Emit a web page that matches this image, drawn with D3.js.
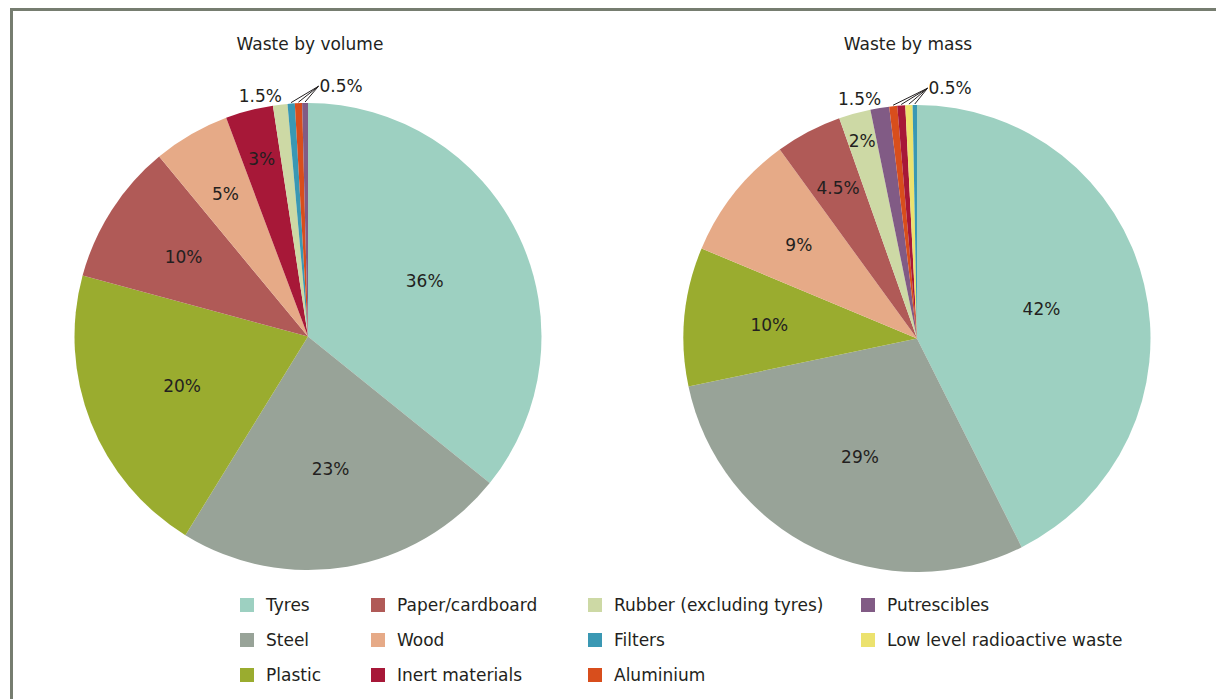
<!DOCTYPE html>
<html>
<head>
<meta charset="utf-8">
<script src="https://cdn.jsdelivr.net/npm/d3@7"></script>
<style>
  html, body { margin: 0; padding: 0; background: #fff; }
  svg { display: block; font-family: "DejaVu Sans", "Noto Sans", sans-serif; }
</style>
</head>
<body>
<svg id="chart" width="1216" height="699"></svg>
<script>
// ---- data ----
const categories = ["Tyres", "Steel", "Plastic", "Paper/cardboard", "Wood", "Inert materials",
  "Rubber (excluding tyres)", "Filters", "Aluminium", "Putrescibles", "Low level radioactive waste"];
const colors = ["#9dd0c1", "#98a398", "#9aac2f", "#b05a57", "#e6aa87", "#a71838",
  "#cdd9a5", "#3a98b3", "#d84e1c", "#815b85", "#ece26e"];

const volumeTitle = "Waste by volume";
const volumeCats = ["Tyres", "Steel", "Plastic", "Paper/cardboard", "Wood", "Inert materials",
  "Rubber (excluding tyres)", "Filters", "Aluminium", "Putrescibles"];
// slice sizes estimated from the drawn angles
const volumeValues = [35.8, 23.0, 20.4, 9.8, 5.3, 3.3, 1.0, 0.5, 0.5, 0.4];
// printed labels
const volumeLabels = ["36%", "23%", "20%", "10%", "5%", "3%", "1.5%", "0.5%", "0.5%", "0.5%"];

const massTitle = "Waste by mass";
const massCats = ["Tyres", "Steel", "Plastic", "Wood", "Paper/cardboard", "Rubber (excluding tyres)",
  "Putrescibles", "Aluminium", "Inert materials", "Low level radioactive waste", "Filters"];
const massValues = [42.6, 29.1, 9.6, 8.7, 4.6, 2.2, 1.3, 0.55, 0.55, 0.5, 0.3];
const massLabels = ["42%", "29%", "10%", "9%", "4.5%", "2%", "1.5%", "0.5%", "0.5%", "0.5%", "0.5%"];

const legendOrder = ["Tyres", "Steel", "Plastic", "Paper/cardboard", "Wood", "Inert materials",
  "Rubber (excluding tyres)", "Filters", "Aluminium", "Putrescibles", "Low level radioactive waste"];

// ---- drawing ----
const svg = d3.select("#chart");
const color = d3.scaleOrdinal().domain(categories).range(colors);
const textColor = "#231f20";

// frame
svg.append("path")
  .attr("d", "M11.5,699 L11.5,9.5 L1220,9.5")
  .attr("fill", "none").attr("stroke", "#767d70").attr("stroke-width", 3);

function drawPie(cx, cy, R, titleX, title, cats, values, labels) {
  const g = svg.append("g").attr("transform", `translate(${cx},${cy})`);
  const data = cats.map((c, i) => ({ cat: c, value: values[i], label: labels[i] }));
  const pie = d3.pie().value(d => d.value).sort(null);
  const arcs = pie(data);
  const arc = d3.arc().innerRadius(0).outerRadius(R);

  g.selectAll("path.slice").data(arcs).enter().append("path")
    .attr("class", "slice")
    .attr("d", arc)
    .attr("fill", d => color(d.data.cat));

  svg.append("text")
    .attr("x", titleX).attr("y", 50)
    .attr("text-anchor", "middle")
    .attr("font-size", 17).attr("fill", textColor)
    .text(title);

  const pt = (a, r) => [r * Math.sin(a), -r * Math.cos(a)];
  const mid = d => (d.startAngle + d.endAngle) / 2;
  const lab = d => parseFloat(d.data.label);

  // inside labels (>= 2%)
  const inside = arcs.filter(d => lab(d) >= 2);
  g.selectAll("text.in").data(inside).enter().append("text")
    .attr("class", "in")
    .attr("text-anchor", "middle")
    .attr("dy", "0.36em")
    .attr("font-size", 17).attr("fill", textColor)
    .attr("transform", d => {
      const p = d.data.value;
      const f = Math.max(0.54, 0.50 + 0.66 * Math.pow(p, -0.7));
      const [x, y] = pt(mid(d), R * f);
      return `translate(${x},${y})`;
    })
    .text(d => d.data.label);

  // outside labels for 1.5%
  const mids = arcs.filter(d => lab(d) > 0.5 && lab(d) < 2);
  mids.forEach(d => {
    const [x, y] = pt(mid(d), R + 10);
    g.append("text").attr("x", x + 3).attr("y", y + 7)
      .attr("text-anchor", "end").attr("font-size", 17).attr("fill", textColor)
      .text(d.data.label);
  });

  // 0.5% group with leader lines
  const smalls = arcs.filter(d => lab(d) <= 0.5);
  const [ax, ay] = pt(0.042, R + 17);
  smalls.forEach(d => {
    const [x, y] = pt(mid(d), R + 1);
    g.append("line").attr("x1", ax).attr("y1", ay).attr("x2", x).attr("y2", y)
      .attr("stroke", textColor).attr("stroke-width", 1);
  });
  g.append("text").attr("x", ax + 1).attr("y", ay + 6)
    .attr("text-anchor", "start").attr("font-size", 17).attr("fill", textColor)
    .text(smalls[0].data.label);
}

drawPie(308, 336.5, 233.5, 310, volumeTitle, volumeCats, volumeValues, volumeLabels);
drawPie(917, 338.5, 233.5, 908, massTitle, massCats, massValues, massLabels);

// legend
const colX = [240, 371, 588, 861];
const rowY = [605, 640, 675];
const leg = svg.append("g");
legendOrder.forEach((c, i) => {
  const col = Math.floor(i / 3), row = i % 3;
  const x = colX[col], y = rowY[row];
  leg.append("rect").attr("x", x).attr("y", y - 7).attr("width", 14).attr("height", 14)
    .attr("fill", color(c));
  leg.append("text").attr("x", x + 26).attr("y", y).attr("dy", "0.36em")
    .attr("font-size", 17).attr("fill", textColor).text(c);
});
</script>
</body>
</html>
